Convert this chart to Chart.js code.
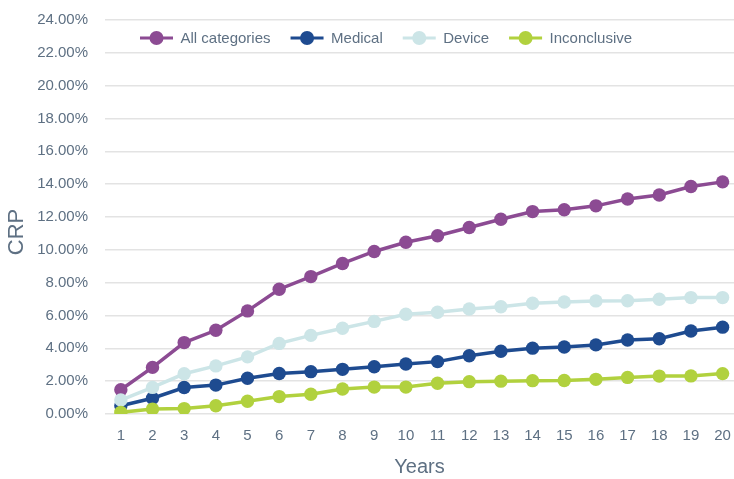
<!DOCTYPE html>
<html>
<head>
<meta charset="utf-8">
<script src="https://cdn.jsdelivr.net/npm/chart.js@4/dist/chart.umd.min.js"></script>
<style>
  html, body { margin: 0; padding: 0; background: #ffffff; }
  canvas { display: block; }
</style>
</head>
<body>
<canvas id="crpChart" width="734" height="479"></canvas>
<script>
// Cumulative rate (%) by year since start
const years = [1, 2, 3, 4, 5, 6, 7, 8, 9, 10, 11, 12, 13, 14, 15, 16, 17, 18, 19, 20];
const allCategories = [1.48, 2.84, 4.35, 5.10, 6.28, 7.60, 8.37, 9.17, 9.90, 10.46, 10.86, 11.36, 11.86, 12.33, 12.44, 12.68, 13.10, 13.34, 13.86, 14.14];
const medical = [0.50, 0.96, 1.61, 1.76, 2.18, 2.47, 2.58, 2.72, 2.88, 3.05, 3.19, 3.55, 3.82, 4.01, 4.08, 4.21, 4.51, 4.58, 5.06, 5.29];
const device = [0.85, 1.62, 2.45, 2.93, 3.48, 4.30, 4.79, 5.22, 5.64, 6.08, 6.20, 6.40, 6.53, 6.75, 6.82, 6.89, 6.90, 6.99, 7.09, 7.09];
const inconclusive = [0.10, 0.30, 0.33, 0.50, 0.78, 1.06, 1.20, 1.52, 1.64, 1.64, 1.87, 1.97, 2.00, 2.03, 2.04, 2.11, 2.23, 2.31, 2.32, 2.46];
const seriesNames = ['All categories', 'Medical', 'Device', 'Inconclusive'];
const seriesColors = ['#8c4b93', '#1e4b90', '#cce5e7', '#b1d13e'];
const yTickValues = [0, 2, 4, 6, 8, 10, 12, 14, 16, 18, 20, 22, 24];
const yTitle = 'CRP';
const xTitle = 'Years';

const FONT = '"Liberation Sans", Arial, Helvetica, sans-serif';
const TEXT = '#5e7083';

function toPoints(values) {
  return values.map((v, i) => ({ x: years[i], y: v }));
}

const seriesValues = [allCategories, medical, device, inconclusive];
const datasets = seriesValues.map((vals, i) => ({
  label: seriesNames[i],
  data: toPoints(vals),
  borderColor: seriesColors[i],
  backgroundColor: seriesColors[i],
  pointBackgroundColor: seriesColors[i],
  pointBorderWidth: 0,
  pointRadius: 6.7,
  pointHoverRadius: 6.7,
  borderWidth: 3.5,
  tension: 0,
  // later series sit on top of earlier ones
  order: seriesValues.length - i
}));

// Legend: line-with-dot icon followed by the series name, laid out in one row
const lineLegend = {
  id: 'lineLegend',
  afterDraw(chart, args, opts) {
    const ctx = chart.ctx;
    const area = chart.chartArea;
    ctx.save();
    ctx.font = '15px ' + FONT;
    ctx.textBaseline = 'middle';
    ctx.textAlign = 'left';
    let x = area.left + opts.offsetX;
    const y = area.top + opts.offsetY;
    chart.data.datasets.forEach(ds => {
      const c = ds.borderColor;
      ctx.strokeStyle = c;
      ctx.lineWidth = 3;
      ctx.beginPath();
      ctx.moveTo(x, y);
      ctx.lineTo(x + opts.iconWidth, y);
      ctx.stroke();
      ctx.fillStyle = c;
      ctx.beginPath();
      ctx.arc(x + opts.iconWidth / 2, y, 7, 0, Math.PI * 2);
      ctx.fill();
      const tx = x + opts.iconWidth + 7.5;
      ctx.fillStyle = TEXT;
      ctx.fillText(ds.label, tx, y + 1);
      x = tx + ctx.measureText(ds.label).width + 20;
    });
    ctx.restore();
  }
};

// Rotated y-axis title, set a little below the middle of the plot
const yAxisTitle = {
  id: 'yAxisTitle',
  afterDraw(chart, args, opts) {
    const ctx = chart.ctx;
    const area = chart.chartArea;
    ctx.save();
    ctx.translate(opts.x, (area.top + area.bottom) / 2 + opts.shift);
    ctx.rotate(-Math.PI / 2);
    ctx.font = '22px ' + FONT;
    ctx.fillStyle = TEXT;
    ctx.textAlign = 'center';
    ctx.textBaseline = 'middle';
    ctx.fillText(yTitle, 0, 0);
    ctx.restore();
  }
};

new Chart(document.getElementById('crpChart'), {
  type: 'line',
  data: { datasets },
  options: {
    responsive: false,
    animation: false,
    devicePixelRatio: 1,
    layout: { autoPadding: false, padding: { top: 20, right: 0, bottom: 0, left: 0 } },
    plugins: {
      legend: { display: false },
      tooltip: { enabled: false },
      lineLegend: { offsetX: 35, offsetY: 18, iconWidth: 33 },
      yAxisTitle: { x: 17, shift: 15 }
    },
    scales: {
      x: {
        type: 'linear',
        min: 0.5,
        max: 20.36,
        grid: { display: false, drawTicks: false },
        border: { display: false },
        afterBuildTicks: scale => { scale.ticks = years.map(v => ({ value: v })); },
        afterFit: scale => {
          scale.height = 65;
          // the end labels sit well inside the plot, so no side padding is needed
          scale.paddingLeft = 0;
          scale.paddingRight = 0;
        },
        ticks: {
          color: TEXT,
          font: { family: FONT, size: 15 },
          padding: 13,
          maxRotation: 0,
          autoSkip: false,
          callback: v => String(v)
        },
        title: {
          display: true,
          text: xTitle,
          color: TEXT,
          font: { family: FONT, size: 20 },
          padding: { top: 10, bottom: 0 }
        }
      },
      y: {
        min: 0,
        max: 24,
        // invisible tick marks keep the labels clear of the plot
        grid: { color: '#e3e3e3', lineWidth: 1.5, drawTicks: true, tickLength: 17, tickColor: 'rgba(0,0,0,0)' },
        border: { display: false },
        afterBuildTicks: scale => { scale.ticks = yTickValues.map(v => ({ value: v })); },
        afterFit: scale => { scale.width = 105; },
        ticks: {
          color: TEXT,
          font: { family: FONT, size: 15 },
          padding: 0,
          callback: v => v.toFixed(2) + '%'
        }
      }
    }
  },
  plugins: [lineLegend, yAxisTitle]
});
</script>
</body>
</html>
